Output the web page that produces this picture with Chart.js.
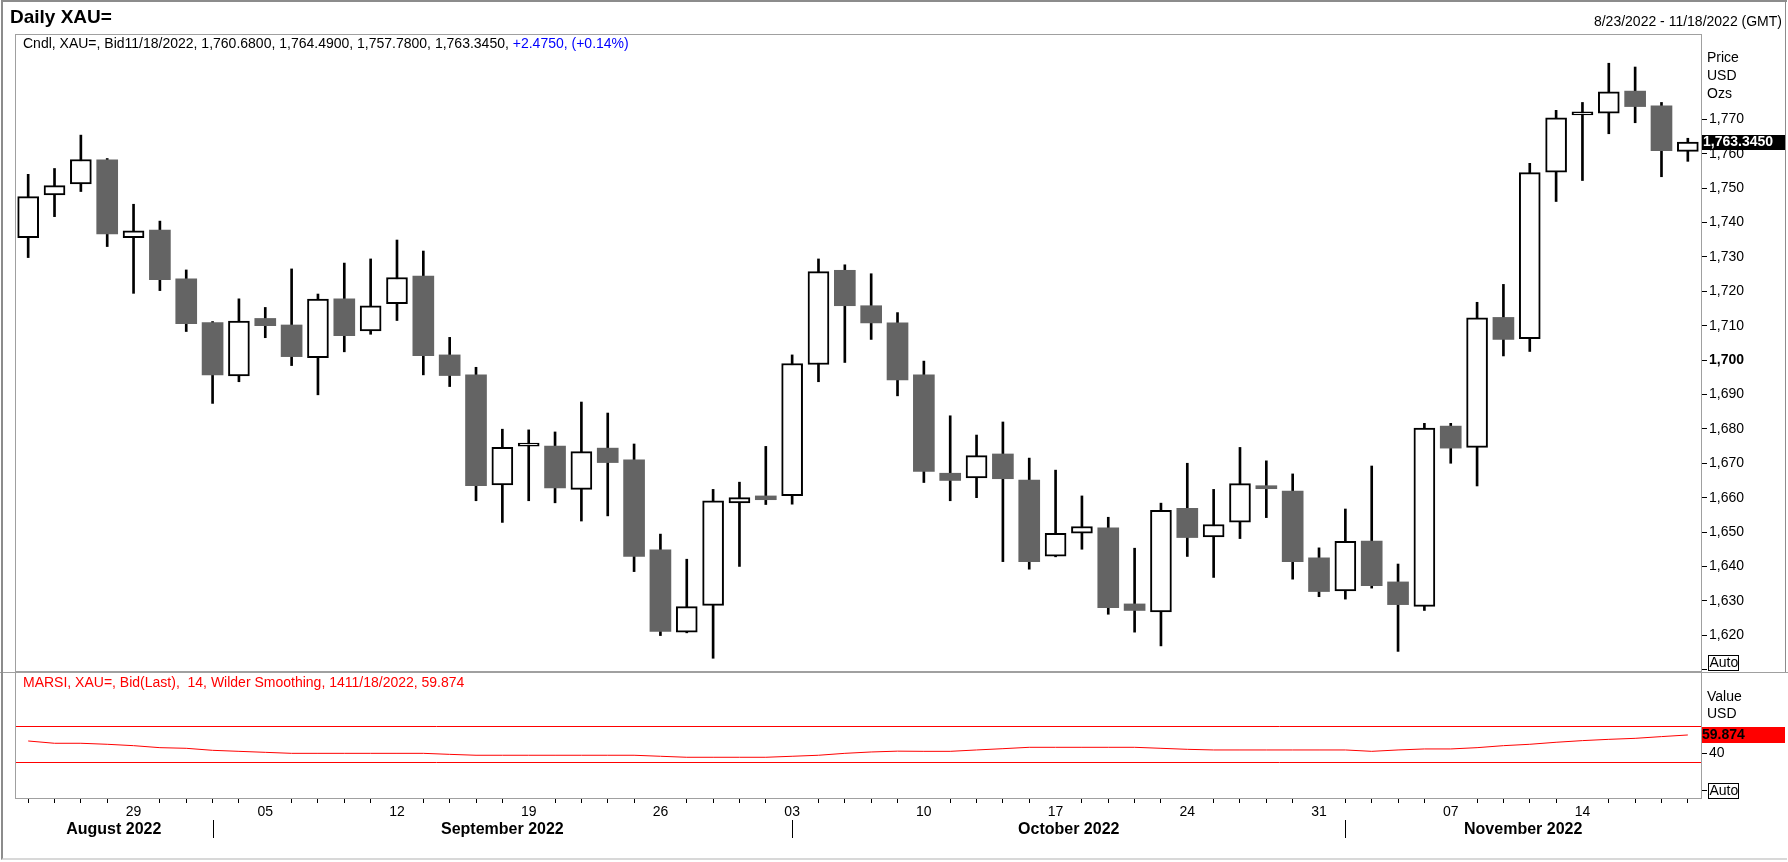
<!DOCTYPE html>
<html>
<head>
<meta charset="utf-8">
<title>Daily XAU=</title>
<script src="https://cdn.jsdelivr.net/npm/chart.js@4.4.1/dist/chart.umd.min.js"></script>
<style>
    html, body { margin: 0; padding: 0; background: #fff; }
    body { width: 1788px; height: 862px; position: relative; overflow: hidden; font-family: 'Liberation Sans', Arial, sans-serif; }
    .txt { position: absolute; white-space: pre; font-size: 14px; line-height: 16px; color: #000; z-index: 2; }
    #title { left: 10px; top: 6px; font-size: 19px; line-height: 22px; font-weight: bold; }
    #range { right: 6px; top: 13px; }
    #legend { left: 23px; top: 35px; }
    #rsiLegend { left: 23px; top: 674px; color: #ff0000; }
    .blue { color: #0000ff; }
    .pane { position: absolute; left: 0; }
    #pricePane { top: 0; width: 1788px; height: 672px; }
    #rsiPane { top: 672px; width: 1788px; height: 190px; }
    #frame { position: absolute; left: 1px; top: 0; width: 1786px; height: 860px; box-sizing: border-box;
             border-left: 2px solid #8c8c8c; border-top: 2px solid #8c8c8c; border-bottom: 2px solid #d8d8d8; z-index: 3; }
    #frameRight { position: absolute; left: 1785px; top: 0; width: 1px; height: 672px; background: #8c8c8c; z-index: 3; }
</style>
</head>
<body>
<div id="frame"></div>
<div id="frameRight"></div>
<div class="pane" id="pricePane"><canvas id="priceChart" width="1788" height="672"></canvas></div>
<div class="pane" id="rsiPane"><canvas id="rsiChart" width="1788" height="190"></canvas></div>
<div class="txt" id="title">Daily XAU=</div>
<div class="txt" id="range"></div>
<div class="txt" id="legend"></div>
<div class="txt" id="rsiLegend"></div>

<script>
// Trading days shown on the chart
const dates = [
    '2022-08-23', '2022-08-24', '2022-08-25', '2022-08-26',
    '2022-08-29', '2022-08-30', '2022-08-31', '2022-09-01', '2022-09-02',
    '2022-09-05', '2022-09-06', '2022-09-07', '2022-09-08', '2022-09-09',
    '2022-09-12', '2022-09-13', '2022-09-14', '2022-09-15', '2022-09-16',
    '2022-09-19', '2022-09-20', '2022-09-21', '2022-09-22', '2022-09-23',
    '2022-09-26', '2022-09-27', '2022-09-28', '2022-09-29', '2022-09-30',
    '2022-10-03', '2022-10-04', '2022-10-05', '2022-10-06', '2022-10-07',
    '2022-10-10', '2022-10-11', '2022-10-12', '2022-10-13', '2022-10-14',
    '2022-10-17', '2022-10-18', '2022-10-19', '2022-10-20', '2022-10-21',
    '2022-10-24', '2022-10-25', '2022-10-26', '2022-10-27', '2022-10-28',
    '2022-10-31', '2022-11-01', '2022-11-02', '2022-11-03', '2022-11-04',
    '2022-11-07', '2022-11-08', '2022-11-09', '2022-11-10', '2022-11-11',
    '2022-11-14', '2022-11-15', '2022-11-16', '2022-11-17', '2022-11-18'
];

const opens = [
    1735.6, 1748.0, 1751.2, 1758.2,
    1735.6, 1737.8, 1723.6, 1710.9, 1695.4,
    1712.1, 1710.2, 1700.7, 1717.8, 1708.5,
    1716.4, 1724.4, 1701.5, 1695.7, 1663.7,
    1675.0, 1675.0, 1662.4, 1674.4, 1671.0,
    1644.8, 1620.9, 1628.7, 1658.5, 1660.5,
    1660.6, 1698.7, 1726.1, 1715.8, 1710.8,
    1695.7, 1667.1, 1665.7, 1672.7, 1665.1,
    1643.0, 1649.7, 1651.2, 1629.1, 1626.8,
    1656.9, 1648.6, 1652.9, 1663.4, 1661.9,
    1642.5, 1632.9, 1647.4, 1635.5, 1628.4,
    1680.8, 1674.6, 1712.4, 1706.2, 1754.6,
    1771.3, 1771.8, 1778.2, 1773.9, 1760.68
];
const highs = [
    1754.0, 1755.7, 1765.4, 1758.6,
    1745.3, 1740.4, 1726.2, 1711.2, 1717.8,
    1715.3, 1726.5, 1719.2, 1728.2, 1729.4,
    1734.9, 1731.7, 1706.6, 1697.9, 1679.9,
    1679.7, 1679.1, 1687.8, 1684.6, 1675.6,
    1649.4, 1642.1, 1662.4, 1664.5, 1674.9,
    1701.5, 1729.4, 1727.7, 1725.1, 1713.8,
    1699.7, 1683.8, 1678.2, 1682.0, 1671.5,
    1668.0, 1660.5, 1654.3, 1645.3, 1658.4,
    1670.0, 1662.4, 1674.6, 1670.7, 1666.9,
    1645.4, 1656.7, 1669.2, 1640.7, 1681.6,
    1681.6, 1716.8, 1722.0, 1757.2, 1772.6,
    1774.9, 1786.3, 1785.2, 1774.9, 1764.49
];
const lows = [
    1729.8, 1741.7, 1749.0, 1733.0,
    1719.4, 1720.2, 1708.3, 1687.4, 1693.7,
    1706.5, 1698.4, 1689.9, 1702.4, 1707.5,
    1711.5, 1695.7, 1692.3, 1659.1, 1652.8,
    1659.1, 1658.5, 1653.2, 1654.7, 1638.5,
    1619.9, 1620.7, 1613.3, 1640.0, 1658.0,
    1658.1, 1693.7, 1699.3, 1706.0, 1689.6,
    1664.4, 1659.1, 1660.0, 1641.4, 1639.2,
    1642.8, 1645.0, 1626.1, 1620.9, 1616.9,
    1642.9, 1636.8, 1648.1, 1654.2, 1636.3,
    1631.2, 1630.5, 1633.7, 1615.3, 1627.2,
    1670.0, 1663.4, 1701.2, 1702.5, 1746.1,
    1752.2, 1765.8, 1769.0, 1753.3, 1757.78
];
const closes = [
    1747.5, 1750.7, 1758.3, 1736.7,
    1737.6, 1723.4, 1710.6, 1695.7, 1711.3,
    1710.0, 1701.0, 1717.7, 1707.1, 1715.8,
    1724.0, 1701.3, 1695.5, 1663.5, 1674.6,
    1675.4, 1662.8, 1673.4, 1670.2, 1642.9,
    1621.1, 1628.3, 1659.1, 1660.0, 1659.4,
    1699.0, 1725.7, 1715.8, 1710.8, 1694.2,
    1667.6, 1665.0, 1672.2, 1665.5, 1641.4,
    1649.6, 1651.6, 1628.0, 1627.2, 1656.3,
    1648.4, 1652.2, 1664.1, 1662.6, 1641.4,
    1632.7, 1647.3, 1634.4, 1628.9, 1680.2,
    1674.4, 1712.3, 1706.0, 1754.5, 1770.4,
    1771.7, 1778.0, 1773.7, 1760.87, 1763.345
];

// MARSI line in the lower pane
const rsi = [
    53.3, 50.8, 50.8, 49.7,
    48.2, 46.0, 45.3, 43.1, 42.0,
    40.9, 39.8, 39.8, 39.8, 39.8,
    39.8, 39.8, 38.7, 37.7, 37.7,
    37.7, 37.7, 37.7, 37.7, 37.7,
    36.6, 35.5, 35.5, 35.5, 35.5,
    36.6, 37.7, 39.8, 41.3, 42.2,
    42.0, 42.0, 43.5, 44.9, 46.4,
    46.4, 46.4, 46.4, 46.4, 45.3,
    44.2, 43.5, 43.5, 43.5, 43.5,
    43.5, 43.5, 42.0, 43.5, 44.6,
    44.6, 46.0, 48.2, 49.7, 51.9,
    53.7, 55.1, 56.2, 58.1, 59.874
];

const priceTicks = [1620, 1630, 1640, 1650, 1660, 1670, 1680, 1690, 1700, 1710, 1720, 1730, 1740, 1750, 1760, 1770];
const rsiTicks = [40];
const rsiLevels = [70, 30];
const monthNames = ['August 2022', 'September 2022', 'October 2022', 'November 2022'];

const FONT = "'Liberation Sans', Arial, sans-serif";
Chart.defaults.font.family = FONT;
Chart.defaults.font.size = 14;
Chart.defaults.color = '#000';

const last = dates.length - 1;
const isMonday = d => new Date(d + 'T00:00:00Z').getUTCDay() === 1;
const usDate = d => {
    const [y, m, dd] = d.split('-');
    return `${+m}/${+dd}/${y}`;
};
const fmt = (v, n) => v.toLocaleString('en-US', { minimumFractionDigits: n, maximumFractionDigits: n });

// Header texts
document.getElementById('range').textContent = `${usDate(dates[0])} - ${usDate(dates[last])} (GMT)`;
const change = closes[last] - closes[last - 1];
const pct = change / closes[last - 1] * 100;
const sign = change >= 0 ? '+' : '';
document.getElementById('legend').innerHTML =
    `Cndl, XAU=, Bid${usDate(dates[last])}, ${fmt(opens[last], 4)}, ${fmt(highs[last], 4)}, ` +
    `${fmt(lows[last], 4)}, ${fmt(closes[last], 4)}, ` +
    `<span class="blue">${sign}${fmt(change, 4)}, (${sign}${pct.toFixed(2)}%)</span>`;
document.getElementById('rsiLegend').textContent =
    `MARSI, XAU=, Bid(Last),  14, Wilder Smoothing, 14${usDate(dates[last])}, ${rsi[last].toFixed(3)}`;

// keep the axes from pushing the plot area around
function fixWidth(scale) {
    scale.width = 84;
    scale.paddingTop = 0;
    scale.paddingBottom = 0;
}

// Small "Auto" box on the right axis
function drawAuto(ctx, a, tick) {
    ctx.strokeStyle = '#000';
    ctx.lineWidth = 1;
    ctx.strokeRect(a.right + 7.5, a.bottom - 15.5, 30, 15);
    ctx.fillStyle = '#000';
    ctx.font = `14px ${FONT}`;
    ctx.textAlign = 'left';
    ctx.textBaseline = 'middle';
    ctx.fillText('Auto', a.right + 8.5, a.bottom - 7.5);
    ctx.beginPath();
    ctx.moveTo(a.right + 1, a.bottom - tick);
    ctx.lineTo(a.right + 6, a.bottom - tick);
    ctx.stroke();
}

const pricePanePlugin = {
    id: 'pricePane',
    afterDraw(chart) {
        const { ctx, chartArea: a, scales: { y } } = chart;
        ctx.save();
        ctx.strokeStyle = '#a0a0a0';
        ctx.lineWidth = 1;
        ctx.strokeRect(a.left + 0.5, a.top + 0.5, a.right - a.left, a.bottom - a.top);

        ctx.fillStyle = '#000';
        ctx.font = `14px ${FONT}`;
        ctx.textAlign = 'left';
        ctx.textBaseline = 'middle';
        ['Price', 'USD', 'Ozs'].forEach((t, i) => ctx.fillText(t, a.right + 6, a.top + 24 + i * 18));

        // last price marker
        const yv = y.getPixelForValue(closes[last]);
        ctx.fillStyle = '#000';
        ctx.fillRect(a.right + 1, Math.round(yv) - 7, 83, 15);
        ctx.fillStyle = '#fff';
        ctx.font = `bold 14px ${FONT}`;
        ctx.fillText(fmt(closes[last], 4), a.right + 2, Math.round(yv) + 0.5);

        drawAuto(ctx, a, 1.5);
        ctx.restore();
    }
};

const rsiPanePlugin = {
    id: 'rsiPane',
    beforeDatasetsDraw(chart) {
        const { ctx, chartArea: a, scales: { y } } = chart;
        ctx.save();
        ctx.strokeStyle = '#ff0000';
        ctx.lineWidth = 1;
        rsiLevels.forEach(v => {
            const py = Math.round(y.getPixelForValue(v)) + 0.5;
            ctx.beginPath();
            ctx.moveTo(a.left, py);
            ctx.lineTo(a.right, py);
            ctx.stroke();
        });
        ctx.restore();
    },
    afterDraw(chart) {
        const { ctx, chartArea: a, scales: { x, y } } = chart;
        ctx.save();
        ctx.strokeStyle = '#a0a0a0';
        ctx.lineWidth = 1;
        ctx.strokeRect(a.left + 0.5, a.top + 0.5, a.right - a.left, a.bottom - a.top - 1);
        ctx.beginPath();
        ctx.moveTo(0, 0.5);
        ctx.lineTo(chart.width, 0.5);
        ctx.stroke();

        ctx.fillStyle = '#000';
        ctx.font = `14px ${FONT}`;
        ctx.textAlign = 'left';
        ctx.textBaseline = 'middle';
        ctx.fillText('Value', a.right + 6, a.top + 25);
        ctx.fillText('USD', a.right + 6, a.top + 42);

        // last value marker
        const yv = Math.round(y.getPixelForValue(rsi[last]));
        ctx.fillStyle = '#ff0000';
        ctx.fillRect(a.right + 1, yv - 8, 83, 16);
        ctx.fillStyle = '#000';
        ctx.font = `bold 14px ${FONT}`;
        ctx.fillText(rsi[last].toFixed(3), a.right + 1, yv + 0.5);

        drawAuto(ctx, a, 8.5);

        // month names and separators under the day labels
        const starts = [0];
        dates.forEach((d, i) => { if (i > 0 && d.slice(5, 7) !== dates[i - 1].slice(5, 7)) starts.push(i); });
        ctx.strokeStyle = '#000';
        ctx.font = `bold 16px ${FONT}`;
        ctx.textAlign = 'center';
        starts.forEach((s, m) => {
            const left = m === 0 ? a.left : x.getPixelForValue(s);
            const right = m < starts.length - 1 ? x.getPixelForValue(starts[m + 1]) : a.right;
            if (m > 0) {
                const px = Math.round(left) + 0.5;
                ctx.beginPath();
                ctx.moveTo(px, a.bottom + 21);
                ctx.lineTo(px, a.bottom + 39);
                ctx.stroke();
            }
            const mIdx = +dates[s].slice(5, 7) - 8;
            ctx.fillText(monthNames[mIdx], (left + right) / 2, a.bottom + 31);
        });
        ctx.restore();
    }
};

const priceChart = new Chart(document.getElementById('priceChart'), {
    type: 'bar',
    data: {
        labels: dates,
        datasets: [
            {
                label: 'body',
                data: opens.map((o, i) => [o, closes[i]]),
                backgroundColor: opens.map((o, i) => closes[i] >= o ? '#ffffff' : '#646464'),
                borderColor: opens.map((o, i) => closes[i] >= o ? '#000000' : '#646464'),
                borderWidth: opens.map((o, i) => closes[i] >= o ? 2 : 0),
                borderSkipped: false,
                barThickness: 21,
                minBarLength: 3,
                grouped: false,
                order: 1
            },
            {
                label: 'wick',
                data: lows.map((l, i) => [l, highs[i]]),
                backgroundColor: '#000000',
                borderWidth: 0,
                barThickness: 2,
                grouped: false,
                order: 2
            }
        ]
    },
    options: {
        responsive: false,
        animation: false,
        layout: { padding: { left: 15, top: 34, right: 3, bottom: 1 } },
        plugins: { legend: { display: false }, tooltip: { enabled: false } },
        scales: {
            x: { type: 'category', offset: true, display: false, grid: { display: false } },
            y: {
                position: 'right',
                min: 1609.6,
                max: 1794.8,
                afterBuildTicks: scale => { scale.ticks = priceTicks.map(v => ({ value: v })); },
                afterFit: fixWidth,
                border: { display: false },
                grid: { drawOnChartArea: false, drawTicks: true, tickLength: 6, color: '#000' },
                ticks: {
                    padding: 2,
                    color: '#000',
                    font: ctx => ({ size: 14, weight: ctx.tick && ctx.tick.value === 1700 ? 'bold' : 'normal' }),
                    callback: v => fmt(v, 0)
                }
            }
        }
    },
    plugins: [pricePanePlugin]
});

const rsiChart = new Chart(document.getElementById('rsiChart'), {
    type: 'line',
    data: {
        labels: dates,
        datasets: [{
            label: 'MARSI',
            data: rsi,
            borderColor: '#ff0000',
            borderWidth: 1,
            pointRadius: 0,
            tension: 0,
            fill: false
        }]
    },
    options: {
        responsive: false,
        animation: false,
        layout: { padding: { left: 15, top: 0, right: 3, bottom: 0 } },
        plugins: { legend: { display: false }, tooltip: { enabled: false } },
        scales: {
            x: {
                type: 'category',
                offset: true,
                afterFit: scale => {
                    scale.height = 63;
                    scale.paddingLeft = 0;
                    scale.paddingRight = 0;
                },
                border: { display: false },
                grid: {
                    drawOnChartArea: false,
                    drawTicks: true,
                    tickLength: 4,
                    color: ctx => isMonday(dates[ctx.index] || dates[0]) ? 'rgba(0,0,0,0)' : '#000'
                },
                ticks: {
                    autoSkip: false,
                    maxRotation: 0,
                    minRotation: 0,
                    padding: 1,
                    color: '#000',
                    callback: (v, i) => isMonday(dates[i]) ? dates[i].slice(8) : ''
                }
            },
            y: {
                position: 'right',
                min: -10.1,
                max: 128.7,
                afterBuildTicks: scale => { scale.ticks = rsiTicks.map(v => ({ value: v })); },
                afterFit: fixWidth,
                border: { display: false },
                grid: { drawOnChartArea: false, drawTicks: true, tickLength: 6, color: '#000' },
                ticks: { padding: 2, color: '#000', callback: v => fmt(v, 0) }
            }
        }
    },
    plugins: [rsiPanePlugin]
});
</script>
</body>
</html>
